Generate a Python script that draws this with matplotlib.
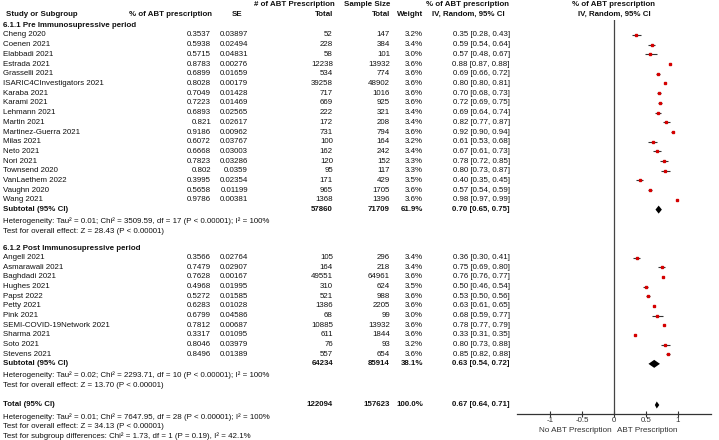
import matplotlib
matplotlib.use("Agg")
import matplotlib.pyplot as plt
from matplotlib.patches import Polygon

# ── data ─────────────────────────────────────────────────────────────────
pre_studies = ["Cheng 2020", "Coenen 2021", "Elabbadi 2021", "Estrada 2021", "Grasselli 2021",
               "ISARIC4CInvestigators 2021", "Karaba 2021", "Karami 2021", "Lehmann 2021",
               "Martin 2021", "Martinez-Guerra 2021", "Milas 2021", "Neto 2021", "Nori 2021",
               "Townsend 2020", "VanLaethem 2022", "Vaughn 2020", "Wang 2021"]
pre_prop = ["0.3537", "0.5938", "0.5715", "0.8783", "0.6899", "0.8028", "0.7049", "0.7223", "0.6893",
            "0.821", "0.9186", "0.6072", "0.6668", "0.7823", "0.802", "0.3995", "0.5658", "0.9786"]
pre_se = ["0.03897", "0.02494", "0.04831", "0.00276", "0.01659", "0.00179", "0.01428", "0.01469",
          "0.02565", "0.02617", "0.00962", "0.03767", "0.03003", "0.03286", "0.0359", "0.02354",
          "0.01199", "0.00381"]
pre_abt = [52, 228, 58, 12238, 534, 39258, 717, 669, 222, 172, 731, 100, 162, 120, 95, 171, 965, 1368]
pre_n = [147, 384, 101, 13932, 774, 48902, 1016, 925, 321, 208, 794, 164, 242, 152, 117, 429, 1705, 1396]
pre_w = [3.2, 3.4, 3.0, 3.6, 3.6, 3.6, 3.6, 3.6, 3.4, 3.4, 3.6, 3.2, 3.4, 3.3, 3.3, 3.5, 3.6, 3.6]
pre_est = [0.35, 0.59, 0.57, 0.88, 0.69, 0.80, 0.70, 0.72, 0.69, 0.82, 0.92, 0.61, 0.67, 0.78, 0.80, 0.40, 0.57, 0.98]
pre_lo = [0.28, 0.54, 0.48, 0.87, 0.66, 0.80, 0.68, 0.69, 0.64, 0.77, 0.90, 0.53, 0.61, 0.72, 0.73, 0.35, 0.54, 0.97]
pre_hi = [0.43, 0.64, 0.67, 0.88, 0.72, 0.81, 0.73, 0.75, 0.74, 0.87, 0.94, 0.68, 0.73, 0.85, 0.87, 0.45, 0.59, 0.99]

post_studies = ["Angell 2021", "Asmarawali 2021", "Baghdadi 2021", "Hughes 2021", "Papst 2022",
                "Petty 2021", "Pink 2021", "SEMI-COVID-19Network 2021", "Sharma 2021", "Soto 2021",
                "Stevens 2021"]
post_prop = ["0.3566", "0.7479", "0.7628", "0.4968", "0.5272", "0.6283", "0.6799", "0.7812",
             "0.3317", "0.8046", "0.8496"]
post_se = ["0.02764", "0.02907", "0.00167", "0.01995", "0.01585", "0.01028", "0.04586", "0.00687",
           "0.01095", "0.03979", "0.01389"]
post_abt = [105, 164, 49551, 310, 521, 1386, 68, 10885, 611, 76, 557]
post_n = [296, 218, 64961, 624, 988, 2205, 99, 13932, 1844, 93, 654]
post_w = [3.4, 3.4, 3.6, 3.5, 3.6, 3.6, 3.0, 3.6, 3.6, 3.2, 3.6]
post_est = [0.36, 0.75, 0.76, 0.50, 0.53, 0.63, 0.68, 0.78, 0.33, 0.80, 0.85]
post_lo = [0.30, 0.69, 0.76, 0.46, 0.50, 0.61, 0.59, 0.77, 0.31, 0.73, 0.82]
post_hi = [0.41, 0.80, 0.77, 0.54, 0.56, 0.65, 0.77, 0.79, 0.35, 0.88, 0.88]

# subtotal / total: events, sample, weight, estimate, lower, upper
pooled = {
    "pre":   (57860, 71709, 61.9, 0.70, 0.65, 0.75),
    "post":  (64234, 85914, 38.1, 0.63, 0.54, 0.72),
    "total": (122094, 157623, 100.0, 0.67, 0.64, 0.71),
}
pre_notes = ["Heterogeneity: Tau² = 0.01; Chi² = 3509.59, df = 17 (P < 0.00001); I² = 100%",
             "Test for overall effect: Z = 28.43 (P < 0.00001)"]
post_notes = ["Heterogeneity: Tau² = 0.02; Chi² = 2293.71, df = 10 (P < 0.00001); I² = 100%",
              "Test for overall effect: Z = 13.70 (P < 0.00001)"]
total_notes = ["Heterogeneity: Tau² = 0.01; Chi² = 7647.95, df = 28 (P < 0.00001); I² = 100%",
               "Test for overall effect: Z = 34.13 (P < 0.00001)",
               "Test for subgroup differences: Chi² = 1.73, df = 1 (P = 0.19), I² = 42.1%"]
xticks = [-1, -0.5, 0, 0.5, 1]

# ── layout (pixel coords, origin top-left) ───────────────────────────────
W, H = 719, 440
FS = 5.7
FONT = "Liberation Sans"
RED = "#d40000"
X_NAME, X_PROP, X_SE, X_ABT, X_N, X_W, X_CI = 3, 211, 248, 333, 390, 423, 510
FX_L, FX_R, FX_TOP, FX_BOT = 517, 711, 20, 414
XMIN, XMAX = -1.52, 1.52

plt.rcParams["font.family"] = [FONT, "DejaVu Sans"]
fig = plt.figure(figsize=(W / 100, H / 100), dpi=100)
ax = fig.add_axes([0, 0, 1, 1])
ax.set_xlim(0, W)
ax.set_ylim(H, 0)
ax.axis("off")

fx = fig.add_axes([FX_L / W, 1 - FX_BOT / H, (FX_R - FX_L) / W, (FX_BOT - FX_TOP) / H])
fx.set_xlim(XMIN, XMAX)
fx.set_ylim(FX_BOT, FX_TOP)
fx.patch.set_alpha(0)
for s in ("top", "left", "right"):
    fx.spines[s].set_visible(False)
fx.spines["bottom"].set_linewidth(0.9)
fx.spines["bottom"].set_color("#333333")
fx.set_yticks([])
fx.set_xticks(xticks)
fx.set_xticklabels([f"{t:g}" for t in xticks], fontsize=FS, color="#333333")
fx.tick_params(axis="x", direction="inout", length=4, width=0.8, pad=0.3, colors="#333333")
fx.axvline(0, color="#444444", lw=0.9)
fx.text(-0.04, FX_BOT + 16.5, "No ABT Prescription", ha="right", va="center",
        fontsize=FS + 0.2, color="#333333", clip_on=False)
fx.text(0.04, FX_BOT + 16.5, "ABT Prescription", ha="left", va="center",
        fontsize=FS + 0.2, color="#333333", clip_on=False)


def txt(x, y, s, ha="left", bold=False):
    ax.text(x, y, s, ha=ha, va="center", fontsize=FS, color="#111111",
            fontweight="bold" if bold else "normal")


def ci_str(e, lo, hi):
    return f"{e:.2f} [{lo:.2f}, {hi:.2f}]"


def diamond(y, e, lo, hi, h):
    fx.add_patch(Polygon([(lo, y), (e, y - h), (hi, y), (e, y + h)],
                         closed=True, color="black", lw=0))


# headers
txt(294, 4.5, "# of ABT Prescription", ha="center", bold=True)
txt(390, 4.5, "Sample Size", ha="right", bold=True)
txt(468, 4.5, "% of ABT prescription", ha="center", bold=True)
txt(614, 4.5, "% of ABT prescription", ha="center", bold=True)
txt(X_NAME + 3, 14, "Study or Subgroup", bold=True)
txt(X_PROP + 1, 14, "% of ABT prescription", ha="right", bold=True)
txt(X_SE - 6, 14, "SE", ha="right", bold=True)
txt(X_ABT, 14, "Total", ha="right", bold=True)
txt(X_N, 14, "Total", ha="right", bold=True)
txt(X_W, 14, "Weight", ha="right", bold=True)
txt(468, 14, "IV, Random, 95% CI", ha="center", bold=True)
txt(614, 14, "IV, Random, 95% CI", ha="center", bold=True)


def block(title, y0, dy, names, props, ses, abts, ns, ws, ests, los, his, pool, notes):
    txt(X_NAME, y0, title, bold=True)
    for i, name in enumerate(names):
        y = y0 + 9.7 + i * dy
        txt(X_NAME, y, name)
        txt(X_PROP, y, props[i], ha="right")
        txt(X_SE, y, ses[i], ha="right")
        txt(X_ABT, y, str(abts[i]), ha="right")
        txt(X_N, y, str(ns[i]), ha="right")
        txt(X_W, y, f"{ws[i]:.1f}%", ha="right")
        txt(X_CI, y, ci_str(ests[i], los[i], his[i]), ha="right")
        fx.plot([los[i], his[i]], [y, y], color="#333333", lw=0.8, solid_capstyle="butt")
        fx.plot([ests[i]], [y], marker="s", ms=1.6 + (ws[i] - 3.0) * 0.6,
                color=RED, mec=RED, lw=0)
    ys = y0 + 9.7 + len(names) * dy
    ev, n, w, e, lo, hi = pool
    txt(X_NAME, ys, "Subtotal (95% CI)", bold=True)
    txt(X_ABT, ys, str(ev), ha="right", bold=True)
    txt(X_N, ys, str(n), ha="right", bold=True)
    txt(X_W, ys, f"{w:.1f}%", ha="right", bold=True)
    txt(X_CI, ys, ci_str(e, lo, hi), ha="right", bold=True)
    diamond(ys, e, lo, hi, 4)
    for j, note in enumerate(notes):
        txt(X_NAME, ys + 11.5 + j * 10.3, note)


block("6.1.1 Pre Immunosupressive period", 25.3, 9.7, pre_studies, pre_prop, pre_se, pre_abt,
      pre_n, pre_w, pre_est, pre_lo, pre_hi, pooled["pre"], pre_notes)
block("6.1.2 Post Immunosupressive period", 248, 9.65, post_studies, post_prop, post_se, post_abt,
      post_n, post_w, post_est, post_lo, post_hi, pooled["post"], post_notes)

ev, n, w, e, lo, hi = pooled["total"]
yt = 405
txt(X_NAME, yt, "Total (95% CI)", bold=True)
txt(X_ABT, yt, str(ev), ha="right", bold=True)
txt(X_N, yt, str(n), ha="right", bold=True)
txt(X_W, yt, f"{w:.1f}%", ha="right", bold=True)
txt(X_CI, yt, ci_str(e, lo, hi), ha="right", bold=True)
diamond(yt, e, lo, hi, 3.5)
for j, note in enumerate(total_notes):
    txt(X_NAME, yt + 12.5 + j * 9.5, note)

fig.savefig("out.png", dpi=100, facecolor="white")
